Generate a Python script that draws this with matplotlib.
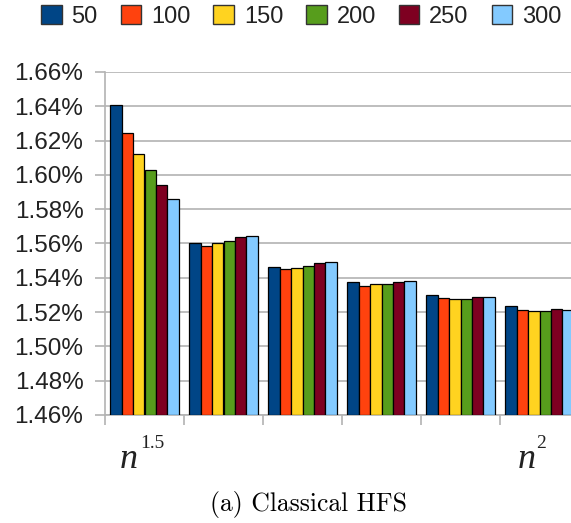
import numpy as np
import matplotlib
matplotlib.use("Agg")
from matplotlib import pyplot as plt
from matplotlib.patches import Patch

# values in percent
series_names = ["50", "100", "150", "200", "250", "300"]
colors = ["#004586", "#ff420e", "#ffd320", "#579d1c", "#7e0021", "#83caff"]
v50 = [1.6406, 1.5600, 1.5464, 1.5375, 1.5299, 1.5233]
v100 = [1.6243, 1.5586, 1.5451, 1.5352, 1.5280, 1.5210]
v150 = [1.6119, 1.5600, 1.5460, 1.5361, 1.5274, 1.5204]
v200 = [1.6027, 1.5614, 1.5466, 1.5361, 1.5274, 1.5204]
v250 = [1.5941, 1.5635, 1.5485, 1.5375, 1.5286, 1.5218]
v300 = [1.5862, 1.5645, 1.5491, 1.5379, 1.5290, 1.5214]
yticks = [1.46, 1.48, 1.50, 1.52, 1.54, 1.56, 1.58, 1.60, 1.62, 1.64, 1.66]

values = [v50, v100, v150, v200, v250, v300]
n_groups = len(v50)

W, H = 571, 523
fig = plt.figure(figsize=(W / 100, H / 100), dpi=100)
# axes runs a little past the right edge, as in the cropped original
ax = fig.add_axes([105 / W, (H - 415) / H, 474 / W, (415 - 72) / H])

grid_c = "#b3b3b3"
span = 0.873
bw = span / len(values)
x = np.arange(n_groups)
for k, (vals, c) in enumerate(zip(values, colors)):
    ax.bar(x - span / 2 + bw * (k + 0.5), np.array(vals) - 1.46, bw, bottom=1.46,
           color=c, edgecolor="black", linewidth=0.9, zorder=3)

ax.set_xlim(-0.5, n_groups - 0.5)
ax.set_ylim(1.46, 1.66)
ax.set_yticks(yticks)
ax.set_yticklabels([f"{t:.2f}%" for t in yticks], fontsize=17.5,
                   family="Liberation Sans", color="#222222")
ax.set_xticks(np.arange(n_groups + 1) - 0.5)
ax.set_xticklabels([])
ax.tick_params(axis="both", length=7.5, width=1.2, color=grid_c, pad=8)
ax.yaxis.grid(True, color=grid_c, linewidth=1.2, zorder=0)
ax.set_axisbelow(True)
for s in ["top", "right"]:
    ax.spines[s].set_visible(False)
for s in ["left", "bottom"]:
    ax.spines[s].set_color(grid_c)
    ax.spines[s].set_linewidth(1.2)

# category labels n^1.5 and n^2 under first and last group
tr = ax.get_xaxis_transform()
ax.text(-0.08, -0.155, "n", transform=tr, ha="right", va="baseline", fontsize=26,
        family="Liberation Serif", style="italic", color="#222222")
ax.text(-0.055, -0.096, "1.5", transform=tr, ha="left", va="baseline", fontsize=14,
        family="Liberation Serif", color="#222222")
ax.text(n_groups - 1 - 0.04, -0.155, "n", transform=tr, ha="right", va="baseline",
        fontsize=26, family="Liberation Serif", style="italic", color="#222222")
ax.text(n_groups - 1 - 0.04, -0.096, "2", transform=tr, ha="left", va="baseline",
        fontsize=14, family="Liberation Serif", color="#222222")

handles = [Patch(facecolor=c, edgecolor="#333333", linewidth=1) for c in colors]
leg = fig.legend(handles, series_names, loc="upper left", ncol=6,
                 bbox_to_anchor=(41 / W, 1 - 5 / H), frameon=False, borderpad=0,
                 borderaxespad=0, handlelength=0.87, handleheight=0.87,
                 handletextpad=0.42, columnspacing=0.97,
                 prop={"family": "Liberation Sans", "size": 17})
for t in leg.get_texts():
    t.set_color("#222222")

fig.text(308 / W, 1 - 504 / H, "(a) Classical HFS", ha="center", va="center",
         fontsize=18.5, family="cmr10")

fig.savefig("out.png", dpi=100)
